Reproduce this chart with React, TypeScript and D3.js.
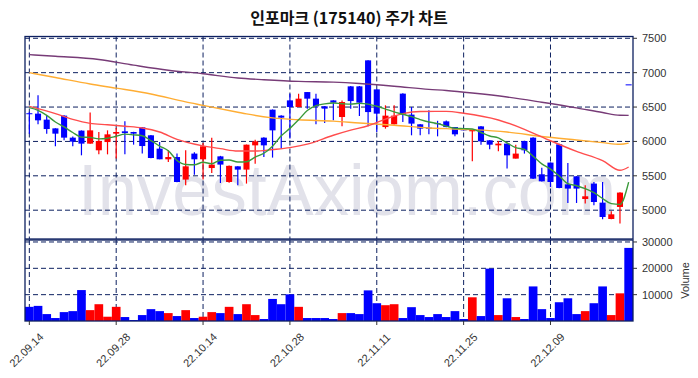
import React from 'react';
import * as d3 from 'd3';

const dates = [
  '22.09.14','22.09.15','22.09.16','22.09.19','22.09.20','22.09.21','22.09.22','22.09.23','22.09.26','22.09.27',
  '22.09.28','22.09.29','22.09.30','22.10.04','22.10.05','22.10.06','22.10.07','22.10.11','22.10.12','22.10.13',
  '22.10.14','22.10.17','22.10.18','22.10.19','22.10.20','22.10.21','22.10.24','22.10.25','22.10.26','22.10.27',
  '22.10.28','22.10.31','22.11.01','22.11.02','22.11.03','22.11.04','22.11.07','22.11.08','22.11.09','22.11.10',
  '22.11.11','22.11.14','22.11.15','22.11.16','22.11.17','22.11.18','22.11.21','22.11.22','22.11.23','22.11.24',
  '22.11.25','22.11.28','22.11.29','22.11.30','22.12.01','22.12.02','22.12.05','22.12.06','22.12.07','22.12.08',
  '22.12.09','22.12.12','22.12.13','22.12.14','22.12.15','22.12.16','22.12.19','22.12.20','22.12.21','22.12.22',
];

const opens = [
  6410,6404,6317,6190,6375,6055,6157,5968,5871,5991,
  6113,6147,6137,6205,6089,5895,5740,5773,5445,5823,
  5740,5613,5783,5410,5638,5590,5943,6055,6462,6375,
  6597,6500,6718,6622,6510,6597,6355,6801,6801,7179,
  6757,6209,6249,6695,6390,6249,6200,6265,6292,6209,
  6186,6147,6219,6016,5943,5968,5750,6006,6055,5522,
  5692,5958,5376,5493,5163,5387,5110,4872,5047,6830,
];
const highs = [
  6430,6670,6379,6190,6380,6070,6160,6419,6137,6161,
  6195,6292,6140,6210,6095,5991,5871,5823,5871,5842,
  5977,6055,5790,5650,5640,5955,6026,6060,6465,6380,
  6695,6695,6720,6695,6515,6600,6597,6805,6805,7180,
  6760,6525,6525,6700,6500,6255,6452,6300,6305,6210,
  6190,6180,6225,6020,6006,5970,5953,6010,6060,5619,
  5695,5965,5686,5495,5362,5410,5410,4984,5260,6830,
];
const lows = [
  6110,6249,6113,5929,6016,5929,5798,5968,5812,5812,
  5750,5812,5953,5823,5755,5740,5701,5405,5362,5517,
  5445,5541,5395,5400,5362,5387,5677,5773,5765,5895,
  6041,6500,6477,6249,6267,6307,6219,6477,6369,6219,
  6137,6186,6245,6282,6089,6089,6103,6074,6205,6074,
  6160,5711,5953,5885,5856,5605,5750,5823,5455,5418,
  5337,5320,5105,5105,5096,5071,4868,4870,4805,6830,
];
const closes = [
  6400,6307,6180,6113,6055,5997,5968,6161,6006,6103,
  6137,6122,6113,5933,5759,5740,5773,5410,5638,5740,
  5929,5663,5663,5645,5590,5953,6001,5943,6161,6346,
  6500,6622,6622,6510,6477,6564,6573,6587,6564,6427,
  6404,6375,6375,6394,6259,6186,6200,6255,6209,6103,
  6161,6176,6001,5953,5968,5798,5823,5871,5459,5420,
  5410,5323,5314,5314,5202,5119,4901,4940,5256,6830,
];
const volumes = [
  5375,5740,2625,1125,3375,3750,11740,4125,6375,1625,
  5375,1500,375,2250,4500,3750,3000,1875,4125,1125,
  1625,3375,3000,5375,2625,6375,2250,750,8375,6375,
  10125,5375,1125,1125,1125,750,3000,3000,2625,11625,
  6750,6000,6375,1125,5250,2250,1500,2625,1500,3750,
  750,9000,1875,19875,2250,8625,1500,750,13125,4500,
  1125,7125,8625,2625,3750,6750,13125,2250,10500,27750,
];

// moving averages: 5-day (per day), 20/60/120-day as [day index, value]
const ma5 = [
  6491,6452,6379,6282,6211,6130,6063,6059,6037,6047,
  6075,6106,6096,6082,6013,5933,5864,5723,5664,5660,
  5698,5676,5727,5730,5700,5704,5772,5828,5930,6081,
  6190,6314,6450,6520,6546,6559,6549,6542,6553,6543,
  6511,6471,6429,6395,6361,6318,6283,6259,6222,6191,
  6186,6181,6130,6079,6052,5979,5909,5883,5784,5674,
  5597,5497,5385,5356,5313,5254,5170,5095,5084,5409,
];
const ma20: [number, number][] = [
  [0,6510],[3,6405],[5,6320],[7,6262],[9,6243],[11,6221],[13,6196],[15,6137],[17,6030],[20,5935],
  [22,5895],[24,5860],[26,5860],[28,5882],[30,5910],[32,5960],[35,6090],[37,6165],[39,6228],[41,6325],
  [43,6404],[45,6435],[48,6437],[50,6410],[54,6312],[57,6176],[60,6010],[63,5855],[66,5720],[68,5580],[69,5628],
];
const ma60: [number, number][] = [
  [0,7000],[3,6930],[7,6835],[10,6775],[14,6690],[18,6575],[20,6525],[24,6425],[25,6400],[28,6343],
  [31,6315],[35,6295],[38,6268],[42,6236],[46,6196],[48,6186],[51,6171],[55,6137],[59,6072],[63,6020],
  [66,5982],[68,5958],[69,5975],
];
const ma120: [number, number][] = [
  [0,7262],[3,7238],[8,7192],[12,7110],[16,7036],[20,6985],[24,6922],[27,6898],[31,6873],[35,6862],
  [38,6842],[42,6803],[46,6757],[48,6740],[51,6704],[55,6646],[59,6570],[63,6488],[66,6420],[68,6380],[69,6379],
];

const tickIdx = [0, 10, 20, 30, 40, 50, 60];
const priceTicks = [5000, 5500, 6000, 6500, 7000, 7500];
const volTicks = [10000, 20000, 30000];
const title = '인포마크 (175140) 주가 차트';

export default function App() {
  const W = 698, H = 378;
  const L = 25, R = 633, pT = 36.5, pB = 239, vT = 240, vB = 321;
  const n = dates.length;
  const x = d3.scaleBand<number>().domain(d3.range(n)).range([L, R]).padding(0);
  const bw = x.bandwidth();
  const cx = (i: number) => (x(i) as number) + bw / 2;
  const y = d3.scaleLinear().domain([4581, 7526]).range([pB, pT]);
  const yv = d3.scaleLinear().domain([0, 30750]).range([vB, vT]);
  const up = '#ff0000', down = '#0000ff';
  const grid = '#0d2060';
  const isUp = (i: number) => closes[i] > opens[i];

  const lineP = d3.line<[number, number]>().x(d => cx(d[0])).y(d => y(d[1])).curve(d3.curveMonotoneX);
  const ma5pts: [number, number][] = ma5.map((v, i) => [i, v]);
  const font = 'Liberation Sans, Arial, sans-serif';

  return (
    <svg width={W} height={H} style={{ position: 'absolute', left: 0, top: 0, background: '#fff' }}>
      <rect x={0} y={0} width={W} height={H} fill="#fff" />
      <text x={349} y={24} textAnchor="middle" fontFamily="Noto Sans CJK KR" fontWeight={700} fontSize={16} fill="#111">{title}</text>

      {/* watermark */}
      <text x={78} y={215} fontFamily={font} fontSize={72} fill="#e2e2ea" textLength={538} lengthAdjust="spacingAndGlyphs">InvestAxiom.com</text>

      {/* horizontal grid */}
      {priceTicks.map(t => (
        <line key={'pg' + t} x1={L} x2={R} y1={y(t)} y2={y(t)} stroke={grid} strokeWidth={1} strokeDasharray="5,3" />
      ))}
      {volTicks.map(t => (
        <line key={'vg' + t} x1={L} x2={R} y1={yv(t)} y2={yv(t)} stroke={grid} strokeWidth={1} strokeDasharray="5,3" />
      ))}
      {/* vertical grid */}
      {tickIdx.map(i => (
        <g key={'vx' + i}>
          <line x1={cx(i)} x2={cx(i)} y1={pT} y2={pB} stroke={grid} strokeWidth={1} strokeDasharray="5,3" />
          <line x1={cx(i)} x2={cx(i)} y1={vT} y2={vB} stroke={grid} strokeWidth={1} strokeDasharray="5,3" />
        </g>
      ))}

      {/* candles */}
      {dates.map((d, i) => {
        const c = isUp(i) ? up : down;
        const top = y(Math.max(opens[i], closes[i]));
        const bot = y(Math.min(opens[i], closes[i]));
        return (
          <g key={'c' + i}>
            <line x1={cx(i)} x2={cx(i)} y1={y(highs[i])} y2={y(lows[i])} stroke={c} strokeWidth={1.2} />
            <rect x={cx(i) - bw * 0.35} y={top} width={bw * 0.7} height={Math.max(bot - top, 1)} fill={c} />
          </g>
        );
      })}

      {/* moving averages */}
      <path d={lineP(ma120) || ''} fill="none" stroke="#773b77" strokeWidth={1.4} />
      <path d={lineP(ma60) || ''} fill="none" stroke="#ffad33" strokeWidth={1.4} />
      <path d={lineP(ma20) || ''} fill="none" stroke="#ff4d4d" strokeWidth={1.4} />
      <path d={lineP(ma5pts) || ''} fill="none" stroke="#3a9a3a" strokeWidth={1.4} />

      {/* volume bars */}
      {volumes.map((v, i) => (
        <rect key={'v' + i} x={x(i)} y={yv(v)} width={bw} height={vB - yv(v)} fill={isUp(i) ? up : down} />
      ))}

      {/* frames */}
      <rect x={L} y={pT} width={R - L} height={pB - pT} fill="none" stroke={grid} strokeWidth={1.3} />
      <rect x={L} y={vT} width={R - L} height={vB - vT} fill="none" stroke={grid} strokeWidth={1.3} />

      {/* right axes */}
      {priceTicks.map(t => (
        <g key={'pt' + t}>
          <line x1={R} x2={R + 4} y1={y(t)} y2={y(t)} stroke="#333" />
          <text x={R + 9} y={y(t)} dy="0.35em" fontFamily={font} fontSize={11} fill="#333">{t}</text>
        </g>
      ))}
      {volTicks.map(t => (
        <g key={'vt' + t}>
          <line x1={R} x2={R + 4} y1={yv(t)} y2={yv(t)} stroke="#333" />
          <text x={R + 9} y={yv(t)} dy="0.35em" fontFamily={font} fontSize={11} fill="#333">{t}</text>
        </g>
      ))}
      <text transform={`translate(685,${(vT + vB) / 2}) rotate(-90)`} textAnchor="middle" dy="0.35em" fontFamily={font} fontSize={11} fill="#333">Volume</text>

      {/* x axis */}
      {tickIdx.map(i => (
        <g key={'xt' + i}>
          <line x1={cx(i)} x2={cx(i)} y1={vB} y2={vB + 4} stroke="#333" />
          <text transform={`translate(${cx(i) - 3},${vB + 29}) rotate(-45)`} textAnchor="middle" dy="0.35em" fontFamily={font} fontSize={11} fill="#333">{dates[i]}</text>
        </g>
      ))}
    </svg>
  );
}
